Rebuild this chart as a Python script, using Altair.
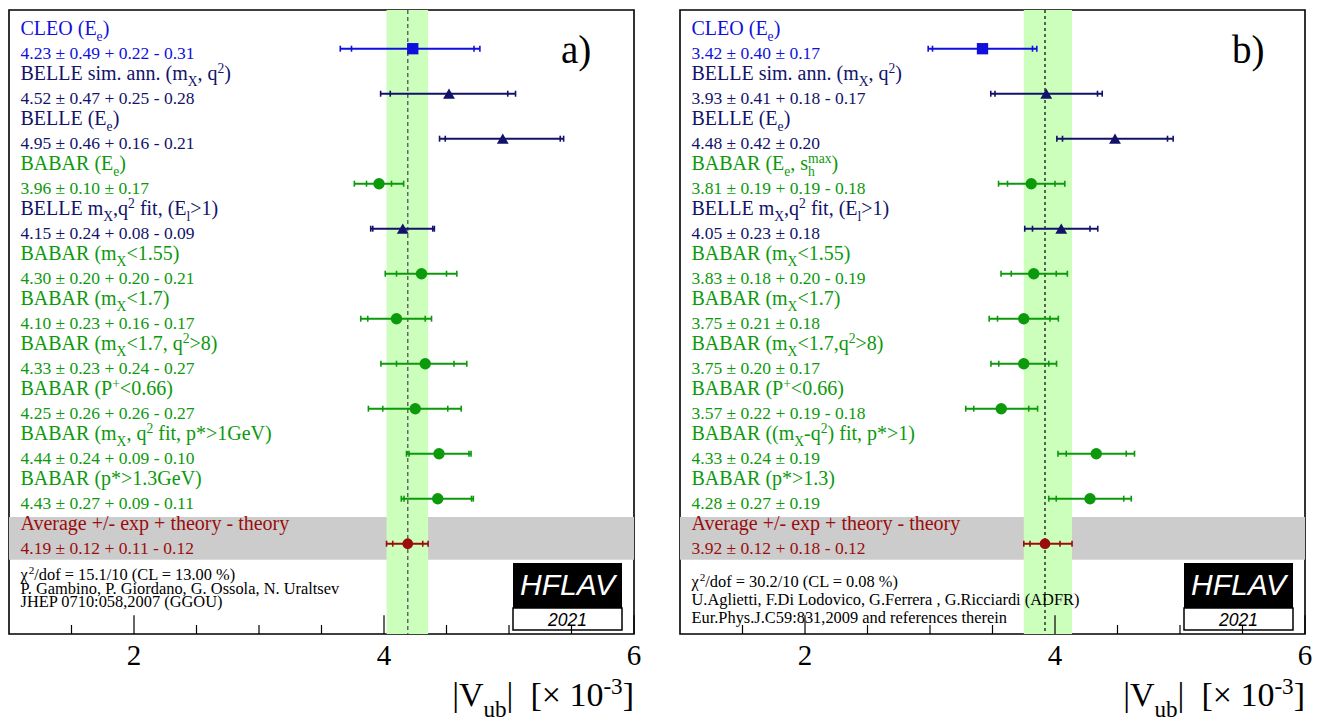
import re
import math
import altair as alt
import pandas as pd

# ---------------- data ----------------
names_a = ["CLEO (E_{e})", "BELLE sim. ann. (m_{X}, q^{2})", "BELLE (E_{e})", "BABAR (E_{e})",
           "BELLE m_{X},q^{2} fit, (E_{l}>1)", "BABAR (m_{X}<1.55)", "BABAR (m_{X}<1.7)",
           "BABAR (m_{X}<1.7, q^{2}>8)", "BABAR (P^{+}<0.66)",
           "BABAR (m_{X}, q^{2} fit, p*>1GeV)", "BABAR (p*>1.3GeV)"]
val_a = [4.23, 4.52, 4.95, 3.96, 4.15, 4.30, 4.10, 4.33, 4.25, 4.44, 4.43]
exp_a = [0.49, 0.47, 0.46, 0.10, 0.24, 0.20, 0.23, 0.23, 0.26, 0.24, 0.27]
thp_a = [0.22, 0.25, 0.16, 0.17, 0.08, 0.20, 0.16, 0.24, 0.26, 0.09, 0.09]
thm_a = [0.31, 0.28, 0.21, 0.17, 0.09, 0.21, 0.17, 0.27, 0.27, 0.10, 0.11]
avg_a = [4.19, 0.12, 0.11, 0.12]
info_a = ["χ^{2}/dof = 15.1/10 (CL = 13.00 %)",
          "P. Gambino, P. Giordano, G. Ossola, N. Uraltsev",
          "JHEP 0710:058,2007 (GGOU)"]
tag_a = "a)"

names_b = ["CLEO (E_{e})", "BELLE sim. ann. (m_{X}, q^{2})", "BELLE (E_{e})", "BABAR (E_{e}, s_{h}^{max})",
           "BELLE m_{X},q^{2} fit, (E_{l}>1)", "BABAR (m_{X}<1.55)", "BABAR (m_{X}<1.7)",
           "BABAR (m_{X}<1.7,q^{2}>8)", "BABAR (P^{+}<0.66)",
           "BABAR ((m_{X}-q^{2}) fit, p*>1)", "BABAR (p*>1.3)"]
val_b = [3.42, 3.93, 4.48, 3.81, 4.05, 3.83, 3.75, 3.75, 3.57, 4.33, 4.28]
exp_b = [0.40, 0.41, 0.42, 0.19, 0.23, 0.18, 0.21, 0.20, 0.22, 0.24, 0.27]
thp_b = [0.17, 0.18, 0.20, 0.19, 0.18, 0.20, 0.18, 0.17, 0.19, 0.19, 0.19]
thm_b = [0.17, 0.17, 0.20, 0.18, 0.18, 0.19, 0.18, 0.17, 0.18, 0.19, 0.19]
avg_b = [3.92, 0.12, 0.18, 0.12]
info_b = ["χ^{2}/dof = 30.2/10 (CL = 0.08 %)",
          "U.Aglietti, F.Di Lodovico, G.Ferrera , G.Ricciardi (ADFR)",
          "Eur.Phys.J.C59:831,2009 and references therein"]
tag_b = "b)"

avg_label = "Average +/- exp + theory - theory"
tick_major = [2, 4, 6]
tick_minor = [1.5, 2.5, 3, 3.5, 4.5, 5, 5.5]
axis_title = "|V_{ub}|\u00a0 [× 10^{-3}]"
logo_top = "HFLAV"
logo_year = "2021"

# ---------------- styles / layout ----------------
FONT = "Liberation Serif"
COLORS = {"CLEO": "#1010dd", "BELLE": "#12126a", "BABAR": "#0c990c", "Average": "#9b0c0c"}
SHAPES = {"CLEO": "square", "BELLE": "triangle-up", "BABAR": "circle", "Average": "circle"}
MSIZE = {"CLEO": 128, "BELLE": 140, "BABAR": 130, "Average": 115}

W, H = 625, 624
X0, X1 = 1.0, 6.0
PXU = W / (X1 - X0)
ROW0, PITCH = 38.7, 45.0
YTOP = -ROW0 / PITCH
YBOT = (H - ROW0) / PITCH


def py(px):
    return (px - ROW0) / PITCH


TW = {' ': 250, '\u00a0': 250, '(': 333, ')': 333, '*': 500, '+': 564, ',': 250, '-': 333,
      '.': 250, '/': 278, ':': 278, '<': 564, '=': 564, '>': 564, '%': 833, '[': 333,
      ']': 333, '|': 200, '±': 549, '×': 564, 'χ': 500}
for c in "0123456789":
    TW[c] = 500
TW.update(dict(zip("ABCDEFGHIJKLMNOPQRSTUVWXYZ",
                   [722, 667, 667, 722, 611, 556, 722, 722, 333, 389, 722, 611, 889, 722, 722,
                    556, 722, 667, 556, 611, 722, 722, 944, 722, 722, 611])))
TW.update(dict(zip("abcdefghijklmnopqrstuvwxyz",
                   [444, 500, 444, 500, 444, 333, 500, 500, 278, 278, 500, 278, 778, 500, 500,
                    500, 500, 333, 389, 278, 500, 500, 722, 500, 500, 444])))

SCRIPT, SUB_DY, SUP_DY = 0.68, 0.31, -0.36


def text_w(s, fs):
    return sum(TW.get(c, 500) for c in s) * fs / 1000.0


def rich(markup, x_px, y_row, size, color, align="left"):
    toks = []
    for part in re.split(r'([_^]\{[^}]*\})', markup):
        if not part:
            continue
        if part[:2] in ('_{', '^{'):
            toks.append(('sub' if part[0] == '_' else 'sup', part[2:-1]))
        else:
            toks.append(('n', part))
    segs = []
    x = 0.0
    prev = None
    for kind, txt in toks:
        fs = size if kind == 'n' else size * SCRIPT
        w = text_w(txt, fs)
        if kind != 'n' and prev is not None and prev[0] != kind:
            start = prev[1]
            x = max(x, start + w)
            prev = None
        else:
            start = x
            x += w
            prev = (kind, start) if kind != 'n' else None
        lead = len(txt) - len(txt.lstrip(' '))
        shown = txt.strip(' ')
        if not shown:
            continue
        dy = 0.0 if kind == 'n' else (SUB_DY if kind == 'sub' else SUP_DY) * size
        segs.append((shown, start + text_w(' ' * lead, fs), dy, fs))
    shift = {'left': 0.0, 'center': -x / 2, 'right': -x}[align]
    return [dict(x=X0 + (x_px + shift + sx) / PXU, y=y_row + dy / PITCH, text=t, size=fs, color=color)
            for t, sx, dy, fs in segs]


def fmt(v, e, p, m):
    s = f"{v:.2f} ± {e:.2f} "
    if abs(p - m) < 1e-9:
        return s + f"± {p:.2f}"
    return s + f"+ {p:.2f} - {m:.2f}"


xs = alt.Scale(domain=[X0, X1], nice=False, zero=False)
ys = alt.Scale(domain=[YTOP, YBOT], nice=False, zero=False, reverse=True)


def X(f):
    return alt.X(f, type="quantitative", scale=xs, axis=None)


def Y(f):
    return alt.Y(f, type="quantitative", scale=ys, axis=None)


def panel(names, vals, exps, thps, thms, avg, info, info_base, tag, dash_color, dash, dash_w):
    rows = []
    for i, (nm, v, e, p, m) in enumerate(zip(names, vals, exps, thps, thms)):
        rows.append(dict(row=i, label=nm, v=v, e=e, p=p, m=m, exp=nm.split()[0]))
    na = len(names)
    rows.append(dict(row=na, label=avg_label, v=avg[0], e=avg[1], p=avg[2], m=avg[3], exp="Average"))
    df = pd.DataFrame(rows)
    df["lo_tot"] = df.v - (df.e ** 2 + df.m ** 2) ** 0.5
    df["hi_tot"] = df.v + (df.e ** 2 + df.p ** 2) ** 0.5
    df["lo_exp"] = df.v - df.e
    df["hi_exp"] = df.v + df.e
    df["color"] = df.exp.map(COLORS)
    df["shape"] = df.exp.map(SHAPES)
    df["msize"] = df.exp.map(MSIZE)

    caps = df.melt(id_vars=["row", "color"], value_vars=["lo_tot", "hi_tot", "lo_exp", "hi_exp"],
                   value_name="cx")
    caps["y1"] = caps.row - 3.0 / PITCH
    caps["y2"] = caps.row + 3.0 / PITCH

    # texts
    trows = []
    for r in df.itertuples():
        trows += rich(r.label, 11.5, r.row - 14.0 / PITCH, 20, r.color)
        trows += rich(fmt(r.v, r.e, r.p, r.m), 11.5, r.row + 10.5 / PITCH, 17.5, r.color)
    for k, line in enumerate(info):
        trows += rich(line, 11.5, py(info_base[k]), 16.4, "black")
    for t in tick_major:
        trows += rich(str(t), (t - X0) * PXU, py(655), 29, "black", align="center")
    trows += rich(axis_title, W, py(696), 34, "black", align="right")
    trows += rich(tag, 552, py(53), 39, "black")
    tdf = pd.DataFrame(trows)

    a_lo = avg[0] - math.hypot(avg[1], avg[3])
    a_hi = avg[0] + math.hypot(avg[1], avg[2])
    band = pd.DataFrame([dict(x1=a_lo, x2=a_hi, y1=YTOP, y2=YBOT)])
    gray = pd.DataFrame([dict(x1=X0, x2=X1, y1=na - 26.7 / PITCH, y2=na + 16.0 / PITCH)])
    cline = pd.DataFrame([dict(x=avg[0], y1=YTOP, y2=YBOT)])

    ticks = pd.DataFrame([dict(x=t, y1=YBOT, y2=YBOT - 18.7 / PITCH) for t in tick_major] +
                         [dict(x=t, y1=YBOT, y2=YBOT - 9.0 / PITCH) for t in tick_minor])

    lx1, lx2 = X0 + 504 / PXU, X0 + 613 / PXU
    logo_black = pd.DataFrame([dict(x1=lx1, x2=lx2, y1=py(553), y2=py(598))])
    logo_white = pd.DataFrame([dict(x1=lx1, x2=lx2, y1=py(598), y2=py(620))])
    logo_txt = pd.DataFrame([
        dict(x=(lx1 + lx2) / 2, y=py(585), text=logo_top, size=30, color="white"),
        dict(x=(lx1 + lx2) / 2, y=py(616), text=logo_year, size=17.5, color="black")])

    layers = [
        alt.Chart(gray).mark_rect(color="#cccccc").encode(x=X("x1"), x2="x2", y=Y("y1"), y2="y2"),
        alt.Chart(band).mark_rect(color="#ccffbb").encode(x=X("x1"), x2="x2", y=Y("y1"), y2="y2"),
        alt.Chart(cline).mark_rule(color=dash_color, strokeDash=dash, strokeWidth=dash_w).encode(
            x=X("x"), y=Y("y1"), y2="y2"),
        alt.Chart(df).mark_rule(strokeWidth=2).encode(
            x=X("lo_tot"), x2="hi_tot", y=Y("row"), color=alt.Color("color:N", scale=None)),
        alt.Chart(caps).mark_rule(strokeWidth=1.6).encode(
            x=X("cx"), y=Y("y1"), y2="y2", color=alt.Color("color:N", scale=None)),
        alt.Chart(df).mark_point(filled=True, opacity=1).encode(
            x=X("v"), y=Y("row"), color=alt.Color("color:N", scale=None),
            shape=alt.Shape("shape:N", scale=None), size=alt.Size("msize:Q", scale=None)),
        alt.Chart(logo_black).mark_rect(color="black").encode(x=X("x1"), x2="x2", y=Y("y1"), y2="y2"),
        alt.Chart(logo_white).mark_rect(fill="white", stroke="black", strokeWidth=1.5).encode(
            x=X("x1"), x2="x2", y=Y("y1"), y2="y2"),
        alt.Chart(ticks).mark_rule(color="black", strokeWidth=1.2).encode(x=X("x"), y=Y("y1"), y2="y2"),
        alt.Chart(tdf).mark_text(font=FONT, align="left", baseline="alphabetic").encode(
            x=X("x"), y=Y("y"), text="text:N", color=alt.Color("color:N", scale=None),
            size=alt.Size("size:Q", scale=None)),
        alt.Chart(logo_txt).mark_text(font="Liberation Sans", fontStyle="italic", align="center",
                                      baseline="alphabetic").encode(
            x=X("x"), y=Y("y"), text="text:N", color=alt.Color("color:N", scale=None),
            size=alt.Size("size:Q", scale=None)),
    ]
    return alt.layer(*layers).properties(width=W, height=H)


pa = panel(names_a, val_a, exp_a, thp_a, thm_a, avg_a, info_a, [570, 583.5, 597], tag_a,
           "#666666", [4, 3], 1.5)
pb = panel(names_b, val_b, exp_b, thp_b, thm_b, avg_b, info_b, [577, 595, 613], tag_b,
           "#000000", [3, 3], 1.2)

chart = alt.hconcat(pa, pb, spacing=46, bounds="flush").properties(
    padding={"left": 0, "top": 0, "right": 0, "bottom": 0}, background="white"
).configure_view(stroke="black", strokeWidth=1.6)

chart.save("out.html", embed_options={"renderer": "svg", "actions": False})
